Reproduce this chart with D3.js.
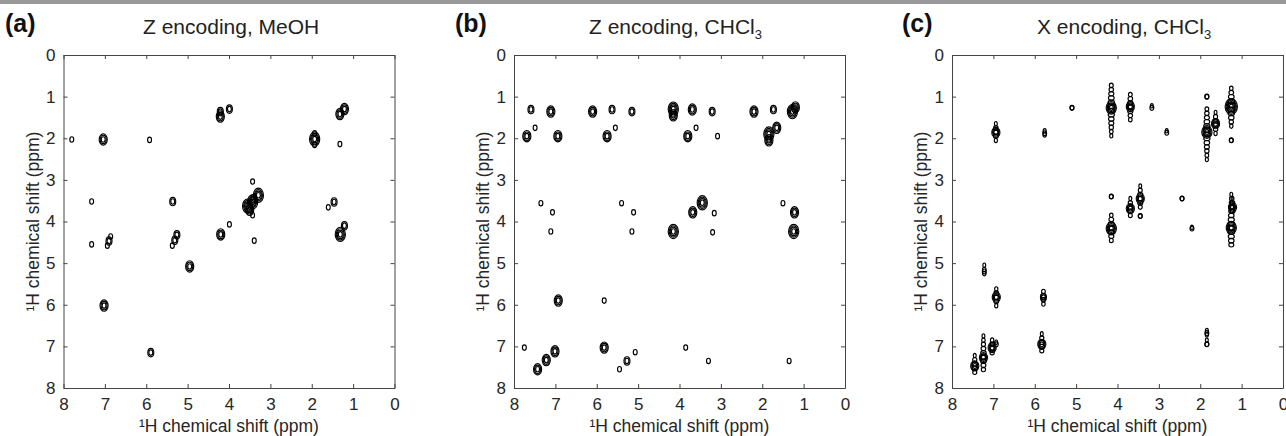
<!DOCTYPE html>
<html lang="en">
<head>
<meta charset="utf-8">
<title>NMR contour panels</title>
<script src="https://d3js.org/d3.v7.min.js"></script>
<style>
  body { margin: 0; background: #fff; }
  svg { display: block; font-family: "Liberation Sans", Arial, sans-serif; }
</style>
</head>
<body>
<script>
// peak lists: [F2 ppm, F1 ppm, contour level]
const peaksA = [
  [7.80, 2.03, 1], [7.04, 2.03, 3], [5.92, 2.04, 1],
  [4.21, 1.36, 2], [4.21, 1.48, 3], [3.99, 1.30, 2],
  [1.32, 1.42, 3], [1.21, 1.30, 3],
  [1.93, 2.02, 4], [1.93, 1.88, 1], [1.93, 2.16, 1], [1.32, 2.14, 1],
  [7.32, 3.52, 1], [5.36, 3.52, 2],
  [3.55, 3.63, 4], [3.50, 3.72, 3], [3.43, 3.53, 4], [3.40, 3.45, 2], [3.29, 3.37, 4],
  [3.43, 3.04, 1], [3.43, 3.85, 1], [3.39, 4.46, 1],
  [1.46, 3.53, 2], [1.60, 3.66, 1],
  [6.86, 4.36, 1], [6.90, 4.47, 2], [6.94, 4.58, 1], [7.32, 4.55, 1],
  [5.26, 4.32, 2], [5.31, 4.45, 2], [5.37, 4.58, 1],
  [4.20, 4.31, 3], [3.99, 4.07, 1],
  [1.31, 4.31, 4], [1.21, 4.10, 2],
  [4.95, 5.08, 3],
  [7.02, 6.02, 3],
  [5.89, 7.15, 2]
];

const peaksB = [
  [7.59, 1.31, 2], [7.11, 1.36, 3], [6.10, 1.36, 3], [5.63, 1.31, 2], [5.15, 1.36, 2],
  [4.15, 1.30, 4], [4.15, 1.45, 3], [3.69, 1.31, 3], [3.21, 1.36, 2], [2.20, 1.36, 3],
  [1.73, 1.31, 2], [1.27, 1.36, 4], [1.20, 1.26, 3],
  [7.49, 1.75, 1], [7.69, 1.95, 3], [6.94, 1.95, 3], [5.55, 1.75, 1], [5.75, 1.95, 3],
  [3.60, 1.75, 1], [3.80, 1.95, 3], [3.08, 1.95, 1], [1.84, 1.90, 4], [1.84, 2.05, 3],
  [1.65, 1.75, 3],
  [7.35, 3.56, 1], [7.07, 3.78, 1], [7.11, 4.24, 1], [5.40, 3.56, 1], [5.11, 3.78, 1],
  [5.15, 4.24, 1], [4.15, 4.24, 4], [3.68, 3.78, 3], [3.45, 3.55, 4], [3.16, 3.80, 1],
  [3.20, 4.26, 1], [1.50, 3.56, 1], [1.22, 3.78, 3], [1.24, 4.24, 4],
  [6.93, 5.90, 3], [5.82, 5.90, 1],
  [7.75, 7.03, 1], [7.43, 7.55, 3], [7.22, 7.33, 3], [7.01, 7.12, 3], [5.82, 7.03, 3],
  [5.45, 7.55, 1], [5.27, 7.35, 2], [5.07, 7.14, 1], [3.85, 7.03, 1], [3.30, 7.35, 1],
  [1.35, 7.35, 1]
];

// X encoding peaks streak along F1: [F2, F1, level, F1 top, F1 bottom]
const peaksC = [
  [6.94, 1.86, 3, 1.65, 2.07], [5.76, 1.88, 1, 1.82, 1.95], [5.10, 1.27, 1, 1.27, 1.27],
  [4.15, 1.27, 4, 0.73, 1.98], [3.69, 1.24, 3, 0.95, 1.65], [3.17, 1.27, 1, 1.22, 1.32],
  [2.81, 1.87, 1, 1.82, 1.92], [1.84, 1.85, 4, 1.30, 2.55], [1.63, 1.65, 3, 1.38, 1.92],
  [1.25, 1.24, 5, 0.80, 1.75], [1.25, 2.05, 1, 2.05, 2.05], [1.84, 1.00, 1, 1.00, 1.00],
  [4.15, 4.17, 4, 3.85, 4.55], [4.15, 3.40, 1, 3.40, 3.40],
  [3.69, 3.69, 3, 3.45, 3.90], [3.45, 3.45, 3, 3.15, 3.70], [3.45, 3.87, 1, 3.87, 3.87],
  [2.44, 3.45, 1, 3.45, 3.45], [2.20, 4.17, 1, 4.14, 4.20],
  [1.25, 4.15, 4, 3.35, 4.60], [1.22, 3.66, 3, 3.45, 3.85],
  [7.22, 5.20, 1, 5.05, 5.35],
  [6.93, 5.82, 3, 5.62, 6.05], [5.79, 5.82, 2, 5.68, 6.05],
  [7.45, 7.47, 3, 7.22, 7.65], [7.24, 7.27, 3, 6.75, 7.65], [7.03, 7.03, 3, 6.85, 7.25],
  [6.93, 6.95, 1, 6.90, 7.00], [5.83, 6.95, 3, 6.70, 7.15],
  [1.84, 6.95, 1, 6.85, 7.05], [1.84, 6.68, 1, 6.62, 6.75]
];

const tickValues = [0, 1, 2, 3, 4, 5, 6, 7, 8];
const panelTags = ["(a)", "(b)", "(c)"];
const panelTitles = [["Z encoding, MeOH", ""], ["Z encoding, CHCl", "3"], ["X encoding, CHCl", "3"]];
const axisLabel = "\u00B9H chemical shift (ppm)";

const width = 1286, height = 436;
const panels = [
  { left: 63.5, tagX: 5, titleX: 143, peaks: peaksA, streak: false },
  { left: 514, tagX: 455, titleX: 589, peaks: peaksB, streak: false },
  { left: 952, tagX: 902, titleX: 1037, peaks: peaksC, streak: true }
];
const plotTop = 55, boxW = 331, boxH = 333;
const ink = "#444";

const svg = d3.select("body").append("svg")
  .attr("width", width)
  .attr("height", height);

// grey strip along the top edge
svg.append("rect").attr("x", 0).attr("y", 0).attr("width", width).attr("height", 4).attr("fill", "#999");

// ring sizes for each contour level
function ringRx(k) { return 0.9 + 1.05 * k; }

panels.forEach((p, i) => {
  const x = d3.scaleLinear().domain([8, 0]).range([p.left, p.left + boxW]);
  const y = d3.scaleLinear().domain([0, 8]).range([plotTop, plotTop + boxH]);

  // panel tag and title
  svg.append("text").attr("x", p.tagX).attr("y", 32)
    .attr("font-size", 25).attr("font-weight", "bold").attr("fill", "#111")
    .text(panelTags[i]);
  const t = svg.append("text").attr("x", p.titleX).attr("y", 34)
    .attr("font-size", 21).attr("fill", "#222")
    .text(panelTitles[i][0]);
  if (panelTitles[i][1]) {
    t.append("tspan").attr("font-size", 13).attr("dy", 5).text(panelTitles[i][1]);
  }

  const g = svg.append("g");

  // contours
  const peakG = g.append("g").attr("fill", "none").attr("stroke", "#000").attr("stroke-width", 1.15);
  p.peaks.forEach(d => {
    const cx = x(d[0]), cy = y(d[1]), level = d[2];
    if (p.streak) {
      const y0 = y(d[3]), y1 = y(d[4]);
      const half = Math.max(Math.abs(cy - y0), Math.abs(y1 - cy), 1);
      for (let yy = y0; yy <= y1 + 0.01; yy += 4.2) {
        const f = 1 - Math.abs(yy - cy) / half;
        const rx = 1.4 + 0.55 * level * Math.max(f, 0);
        peakG.append("ellipse").attr("cx", cx).attr("cy", yy)
          .attr("rx", rx).attr("ry", 2.2);
      }
    }
    for (let k = 1; k <= level; k++) {
      const rx = ringRx(k);
      peakG.append("ellipse").attr("cx", cx).attr("cy", cy)
        .attr("rx", rx).attr("ry", rx * (p.streak ? 1.25 : 1.4));
    }
  });

  // axes, ticks pointing inward
  const axB = g.append("g").attr("transform", `translate(0,${plotTop + boxH})`)
    .call(d3.axisBottom(x).tickValues(tickValues).tickSize(-4).tickSizeOuter(0).tickPadding(10));
  const axL = g.append("g").attr("transform", `translate(${p.left},0)`)
    .call(d3.axisLeft(y).tickValues(tickValues).tickSize(-4).tickSizeOuter(0).tickPadding(8));
  const axT = g.append("g").attr("transform", `translate(0,${plotTop})`)
    .call(d3.axisTop(x).tickValues(tickValues).tickSize(-4).tickSizeOuter(0).tickFormat(""));
  const axR = g.append("g").attr("transform", `translate(${p.left + boxW},0)`)
    .call(d3.axisRight(y).tickValues(tickValues).tickSize(-4).tickSizeOuter(0).tickFormat(""));
  [axB, axL, axT, axR].forEach(a => {
    a.selectAll("path, line").attr("stroke", ink).attr("stroke-width", 1);
    a.selectAll("text").attr("font-size", 17).attr("fill", "#262626")
      .attr("font-family", '"Liberation Sans", Arial, sans-serif');
  });

  // axis titles
  g.append("text").attr("x", p.left + boxW / 2).attr("y", 432)
    .attr("text-anchor", "middle").attr("font-size", 17.5).attr("fill", "#262626")
    .text(axisLabel);
  g.append("text")
    .attr("transform", `translate(${p.left - 25},${plotTop + boxH / 2}) rotate(-90)`)
    .attr("text-anchor", "middle").attr("font-size", 17.5).attr("fill", "#262626")
    .text(axisLabel);
});
</script>
</body>
</html>
